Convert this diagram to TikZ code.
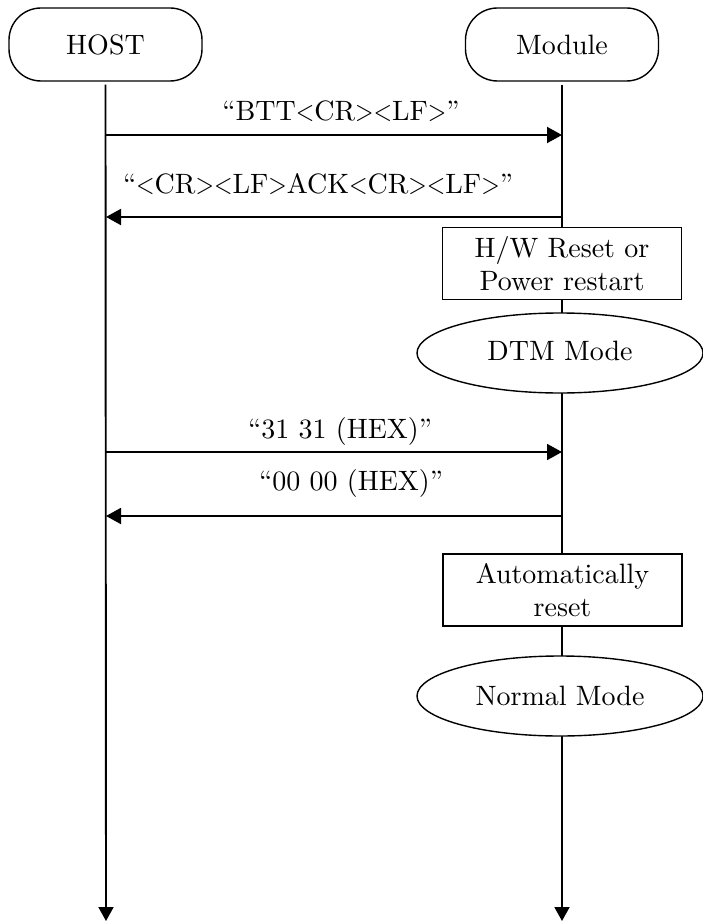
\documentclass[tikz,border=0pt]{standalone}
\usepackage{fontspec}
\usepackage{graphicx}
\setmainfont{lmroman10-regular}[Extension=.otf]
\usetikzlibrary{arrows.meta,shapes.geometric}
\newcommand\myLT{\scalebox{0.85}[1]{<}}
\newcommand\myGT{\scalebox{0.85}[1]{>}}
\begin{document}
\begin{tikzpicture}[x=1pt,y=-1pt,
  every node/.style={font=\fontsize{28}{33}\selectfont, inner sep=0pt},
  actor/.style={draw, line width=1.4pt, rounded corners=32pt, minimum width=193pt, minimum height=73pt},
  stepbox/.style={draw, line width=1.4pt, fill=white, align=center, minimum width=239pt, minimum height=72pt},
  modebox/.style={draw, ellipse, line width=1.4pt, fill=white, minimum width=286pt, minimum height=80pt},
  life/.style={line width=1.9pt, -{Triangle[length=14pt,width=15pt]}},
  msg/.style={line width=1.9pt, -{Triangle[length=15pt,width=16pt]}},
  lbl/.style={anchor=base}]
\useasboundingbox (0,0) rectangle (702,923);
% actors
\node[actor] (host) at (105.5,44.5) {HOST};
\node[actor] (module) at (562,44.5) {Module};
% lifeline ends
\coordinate (hostend) at (106,921);
\coordinate (modend) at (562,921);
\draw[life] ([yshift=-3pt]host.south) -- (hostend);
\draw[life] ([yshift=-3pt]module.south) -- (modend);
% message anchors
\coordinate (h1) at (106,135); \coordinate (m1) at (562,135);
\coordinate (h2) at (106,217); \coordinate (m2) at (562,217);
\coordinate (h3) at (106,452); \coordinate (m3) at (562,452);
\coordinate (h4) at (106,516); \coordinate (m4) at (562,516);
\draw[msg] (h1) -- (m1);
\draw[msg] (m2) -- (h2);
\draw[msg] (h3) -- (m3);
\draw[msg] (m4) -- (h4);
\node[lbl] (l1) at (341,121) {“BTT\myLT CR\myGT\myLT LF\myGT”};
\node[lbl] (l2) at (318,193) {“\myLT CR\myGT\myLT LF\myGT ACK\myLT CR\myGT\myLT LF\myGT”};
\node[lbl] (l3) at (340,438) {“31 31 (HEX)”};
\node[lbl] (l4) at (351,490) {“00 00 (HEX)”};
% module states
\node[stepbox] (reset) at (562,263.5) {H/W Reset or\\Power restart};
\node[modebox] (dtm) at (560,353) {\raisebox{5pt}{DTM Mode}\hspace{30pt}};
\node[stepbox] (auto) at (562.5,590) {Automatically\\reset};
\node[modebox] (normal) at (560,696) {Normal Mode};
\end{tikzpicture}
\end{document}
